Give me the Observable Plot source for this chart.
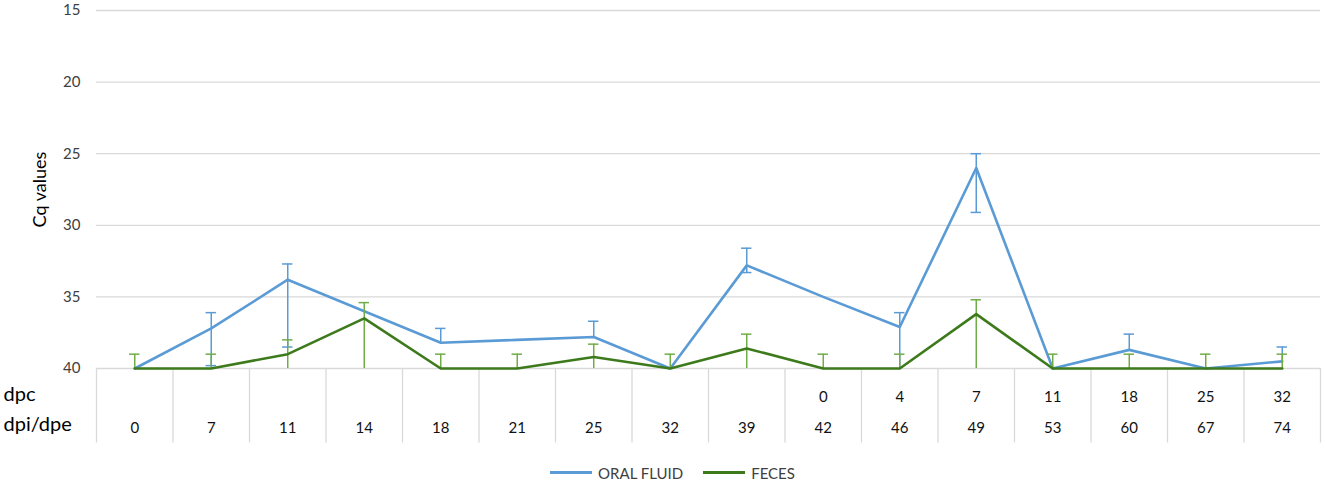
<!DOCTYPE html>
<html>
<head>
<meta charset="utf-8">
<script src="https://cdn.jsdelivr.net/npm/d3@7"></script>
<script src="https://cdn.jsdelivr.net/npm/@observablehq/plot@0.6"></script>
<style>
  html, body { margin: 0; padding: 0; background: #fff; }
  body { width: 1325px; height: 480px; overflow: hidden; font-family: Lato, "Open Sans", sans-serif; }
  #legend { display: flex; justify-content: center; align-items: center; gap: 20px; height: 35px; padding-top: 10px; padding-left: 20px; font-size: 15px; color: #404040; }
  .item { display: flex; align-items: center; gap: 6px; }
  .sw { width: 42px; height: 3px; }
</style>
</head>
<body>
<div id="chart"></div>
<div id="legend"></div>
<script>
// Categories
const dpiDpe = ["0","7","11","14","18","21","25","32","39","42","46","49","53","60","67","74"];
const dpc    = ["","","","","","","","","","0","4","7","11","18","25","32"];
const yTicks = [15, 20, 25, 30, 35, 40];

// ORAL FLUID series (Cq), error-bar upper (lower Cq) and lower ends
const oralCq = [40, 37.2, 33.8, 36.0, 38.2, 38.0, 37.8, 40, 32.8, 35.0, 37.1, 26.0, 40, 38.7, 40, 39.5];
const oralHi = [null, 36.1, 32.7, null, 37.2, null, 36.7, null, 31.6, null, 36.1, 25.0, null, 37.6, null, 38.5];
const oralLo = [null, 39.8, 38.5, null, null, null, null, null, 33.3, null, 40, 29.1, null, null, null, null];

// FECES series (Cq), error-bar upper ends (bars run down to 40)
const fecesCq = [40, 40, 39.0, 36.5, 40, 40, 39.2, 40, 38.6, 40, 40, 36.2, 40, 40, 40, 40];
const fecesHi = [39.0, 39.0, 38.0, 35.4, 39.0, 39.0, 38.3, 39.0, 37.6, 39.0, 39.0, 35.2, 39.0, 39.0, 39.0, 39.0];

const blue = "#5B9BD5", green = "#3D7A1C", greenErr = "#70AD47";
const yMax = 40, tableBottom = 45.2, cap = 0.068;

const idx = dpiDpe.map((_, i) => i);
const oral = idx.map(i => ({i, v: oralCq[i], hi: oralHi[i], lo: oralLo[i]}));
const feces = idx.map(i => ({i, v: fecesCq[i], hi: fecesHi[i], lo: yMax}));
const oralErrUp = oral.filter(d => d.hi != null);
const oralErrDn = oral.filter(d => d.lo != null);
const bounds = d3.range(dpiDpe.length + 1).map(k => k - 0.5);

const chart = Plot.plot({
  width: 1325, height: 445,
  marginLeft: 96, marginRight: 5, marginTop: 10, marginBottom: 77,
  style: {fontFamily: "Lato, 'Open Sans', sans-serif", color: "#404040", background: "#fff"},
  x: {type: "linear", domain: [-0.5, dpiDpe.length - 0.5], axis: null},
  y: {domain: [15, 40], reverse: true, axis: null},
  marks: [
    Plot.ruleY(yTicks, {stroke: "#d9d9d9", strokeWidth: 1.3}),
    Plot.ruleX(bounds, {y1: yMax, y2: tableBottom, stroke: "#d9d9d9", strokeWidth: 1.3}),
    Plot.axisY({ticks: yTicks, tickSize: 0, tickPadding: 16, fontSize: 15, label: null, fill: "#404040"}),
    Plot.text(["Cq values"], {frameAnchor: "left", dx: -56, rotate: -90, textAnchor: "middle", fontSize: 18, fill: "#000"}),
    Plot.text(dpc, {x: (d, i) => i, text: d => d, frameAnchor: "bottom", dy: 33, fontSize: 15, fill: "#111"}),
    Plot.text(dpiDpe, {x: (d, i) => i, text: d => d, frameAnchor: "bottom", dy: 64, fontSize: 15, fill: "#111"}),
    Plot.text(["dpc"], {frameAnchor: "bottom-left", dx: -93, dy: 32, textAnchor: "start", fontSize: 20, fill: "#000"}),
    Plot.text(["dpi/dpe"], {frameAnchor: "bottom-left", dx: -93, dy: 62, textAnchor: "start", fontSize: 20, fill: "#000"}),
    // ORAL FLUID error bars
    Plot.ruleX(oralErrUp, {x: "i", y1: "v", y2: "hi", stroke: blue, strokeWidth: 1.5}),
    Plot.ruleX(oralErrDn, {x: "i", y1: "v", y2: "lo", stroke: blue, strokeWidth: 1.5}),
    Plot.ruleY(oralErrUp, {y: "hi", x1: d => d.i - cap, x2: d => d.i + cap, stroke: blue, strokeWidth: 1.5}),
    Plot.ruleY(oralErrDn.filter(d => d.lo < yMax), {y: "lo", x1: d => d.i - cap, x2: d => d.i + cap, stroke: blue, strokeWidth: 1.5}),
    Plot.line(oral, {x: "i", y: "v", stroke: blue, strokeWidth: 2.6}),
    // FECES error bars
    Plot.ruleX(feces, {x: "i", y1: "lo", y2: "hi", stroke: greenErr, strokeWidth: 1.5}),
    Plot.ruleY(feces, {y: "hi", x1: d => d.i - cap, x2: d => d.i + cap, stroke: greenErr, strokeWidth: 1.5}),
    Plot.line(feces, {x: "i", y: "v", stroke: green, strokeWidth: 2.6})
  ]
});
document.getElementById("chart").appendChild(chart);

const legend = document.getElementById("legend");
[["ORAL FLUID", blue], ["FECES", green]].forEach(([name, c]) => {
  const it = document.createElement("div");
  it.className = "item";
  it.innerHTML = `<div class="sw" style="background:${c}"></div><span>${name}</span>`;
  legend.appendChild(it);
});
</script>
</body>
</html>
